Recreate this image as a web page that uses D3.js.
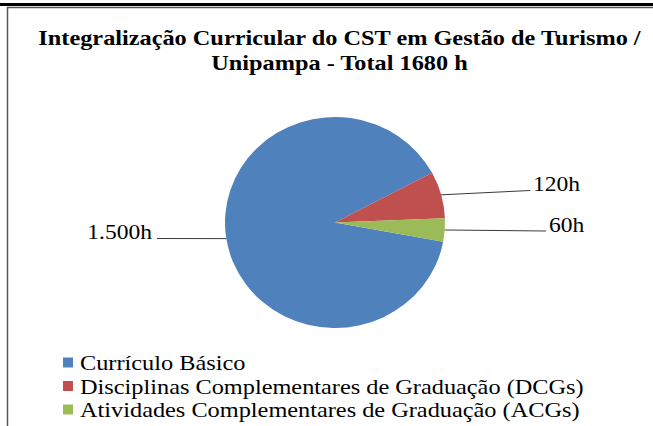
<!DOCTYPE html>
<html>
<head>
<meta charset="utf-8">
<script src="https://cdn.jsdelivr.net/npm/d3@7"></script>
<style>
  html, body { margin: 0; padding: 0; background: #fff; }
  svg { display: block; }
</style>
</head>
<body>
<div id="chart"></div>
<script>
// Data
const categories = ["Currículo Básico", "Disciplinas Complementares de Graduação (DCGs)", "Atividades Complementares de Graduação (ACGs)"];
const hours = [1500, 120, 60];
const valueLabels = ["1.500h", "120h", "60h"];
const colors = ["#4F81BD", "#C0504D", "#9BBB59"];
const titleLines = ["Integralização Curricular do CST em Gestão de Turismo /", "Unipampa - Total 1680 h"];

const width = 653, height = 426;
const cx = 335, cy = 222.5, ry = 105.5, rx = 110;
const font = "'Liberation Serif', 'Times New Roman', serif";

// where each data label sits (end of leader line, text anchor)
const labelLayout = [
  { x: 157, y: 238.5, tx: 152, ty: 238.5, anchor: "end" },
  { x: 530, y: 190.5, tx: 533, ty: 191, anchor: "start" },
  { x: 546, y: 231, tx: 549, ty: 231.5, anchor: "start" }
];

// the original picture is a bit wider than it is tall, so text is stretched
function stretch(sel, k) {
  sel.each(function() {
    const w = this.getComputedTextLength();
    d3.select(this).attr("textLength", w * k).attr("lengthAdjust", "spacingAndGlyphs");
  });
}

const svg = d3.select("#chart").append("svg")
  .attr("width", width)
  .attr("height", height);

// page border bits (table rule + chart frame)
svg.append("line")
  .attr("x1", 0).attr("x2", width).attr("y1", 4.5).attr("y2", 4.5)
  .attr("stroke", "#000").attr("stroke-width", 3);
svg.append("path")
  .attr("d", `M7.5,${height} V7.5 H${width}`)
  .attr("fill", "none").attr("stroke", "#555").attr("stroke-width", 1.5);

// Title
const title = svg.selectAll("text.title")
  .data(titleLines)
  .enter().append("text")
  .attr("class", "title")
  .attr("x", 339.5)
  .attr("y", (d, i) => 45 + i * 25)
  .attr("text-anchor", "middle")
  .attr("font-family", font)
  .attr("font-weight", "bold")
  .attr("font-size", "22px")
  .attr("fill", "#000")
  .text(d => d);
stretch(title, 1.104);

// Pie
const startDeg = 100.5;
const pie = d3.pie()
  .sort(null)
  .startAngle(startDeg * Math.PI / 180)
  .endAngle(startDeg * Math.PI / 180 + 2 * Math.PI);
const arcs = pie(hours);
const arc = d3.arc().innerRadius(0).outerRadius(ry);

const g = svg.append("g").attr("transform", `translate(${cx},${cy}) scale(${rx / ry},1)`);
g.selectAll("path")
  .data(arcs)
  .enter().append("path")
  .attr("d", arc)
  .attr("fill", (d, i) => colors[i]);

// Leader lines
const mid = d => (d.startAngle + d.endAngle) / 2;
svg.selectAll("line.leader")
  .data(arcs)
  .enter().append("line")
  .attr("class", "leader")
  .attr("x1", d => cx + rx * Math.sin(mid(d)))
  .attr("y1", d => cy - ry * Math.cos(mid(d)))
  .attr("x2", (d, i) => labelLayout[i].x)
  .attr("y2", (d, i) => labelLayout[i].y)
  .attr("stroke", "#3a3a3a")
  .attr("stroke-width", 1);

const vlabels = svg.selectAll("text.vlabel")
  .data(valueLabels)
  .enter().append("text")
  .attr("class", "vlabel")
  .attr("x", (d, i) => labelLayout[i].tx)
  .attr("y", (d, i) => labelLayout[i].ty)
  .attr("text-anchor", (d, i) => labelLayout[i].anchor)
  .attr("font-family", font)
  .attr("font-size", "22px")
  .attr("fill", "#000")
  .text(d => d);
stretch(vlabels, 1.07);

// Legend
const legend = svg.append("g").attr("transform", "translate(63,362.5)");
const row = legend.selectAll("g")
  .data(categories)
  .enter().append("g")
  .attr("transform", (d, i) => `translate(0,${i * 23.5})`);
row.append("rect")
  .attr("x", 0).attr("y", -5)
  .attr("width", 10).attr("height", 10)
  .attr("fill", (d, i) => colors[i]);
const ltext = row.append("text")
  .attr("x", 17).attr("y", 7.5)
  .attr("font-family", font)
  .attr("font-size", "22px")
  .attr("fill", "#000")
  .text(d => d);
stretch(ltext, 1.105);
</script>
</body>
</html>
